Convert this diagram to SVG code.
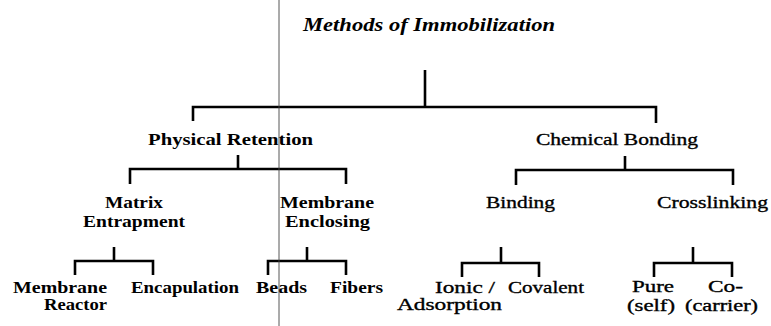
<svg xmlns="http://www.w3.org/2000/svg" width="771" height="326" viewBox="0 0 771 326">
<style>
text{font-family:"Liberation Serif","Times New Roman",serif;fill:#000}
.b{font-size:17px;font-weight:bold}
.r{font-size:17px;font-weight:normal;stroke:#000;stroke-width:0.35}
.s{font-size:16px}
.t{font-size:19px;font-style:italic;font-weight:bold}
.c{fill:none;stroke:#000;stroke-width:2.6;stroke-linejoin:miter}
</style>
<rect width="771" height="326" fill="#fff"/>
<g id="connectors" class="c">
<path d="M425 70V107"/><path d="M193 121V107H656V123"/>
<path d="M238 155V169"/><path d="M130 184V169H346V184"/>
<path d="M625 156V170"/><path d="M516 185V170H733V185"/>
<path d="M114 247V261"/><path d="M75 275V261H153V275"/>
<path d="M307 247V261"/><path d="M268 275V261H346V275"/>
<path d="M501 247V263"/><path d="M462 277V263H539V277"/>
<path d="M693 247V263"/><path d="M654 277V263H732V277"/>
</g>
<g id="title"><text class="t" x="303" y="31" textLength="252" lengthAdjust="spacingAndGlyphs">Methods of Immobilization</text></g>
<g id="physical"><text class="b" x="148" y="145" textLength="165" lengthAdjust="spacingAndGlyphs">Physical Retention</text></g>
<g id="chemical"><text class="r" x="536" y="145" textLength="162" lengthAdjust="spacingAndGlyphs">Chemical Bonding</text></g>
<g id="matrix"><text class="b" x="105" y="208" textLength="58" lengthAdjust="spacingAndGlyphs">Matrix</text><text class="b" x="83" y="227" textLength="102" lengthAdjust="spacingAndGlyphs">Entrapment</text></g>
<g id="enclosing"><text class="b" x="280" y="208" textLength="94" lengthAdjust="spacingAndGlyphs">Membrane</text><text class="b" x="285" y="227" textLength="85" lengthAdjust="spacingAndGlyphs">Enclosing</text></g>
<g id="binding"><text class="r" x="486" y="208" textLength="69" lengthAdjust="spacingAndGlyphs">Binding</text></g>
<g id="crosslinking"><text class="r" x="657" y="208" textLength="111" lengthAdjust="spacingAndGlyphs">Crosslinking</text></g>
<g id="reactor"><text class="b" x="13" y="293" textLength="94" lengthAdjust="spacingAndGlyphs">Membrane</text><text class="b" x="44" y="310" textLength="63" lengthAdjust="spacingAndGlyphs">Reactor</text></g>
<g id="encapulation"><text class="b" x="131" y="293" textLength="108" lengthAdjust="spacingAndGlyphs">Encapulation</text></g>
<g id="beads"><text class="b" x="256" y="293" textLength="51" lengthAdjust="spacingAndGlyphs">Beads</text></g>
<g id="fibers"><text class="b" x="330" y="293" textLength="53" lengthAdjust="spacingAndGlyphs">Fibers</text></g>
<g id="ionic"><text class="r" x="435" y="293" textLength="60" lengthAdjust="spacingAndGlyphs">Ionic /</text><text class="r" x="397" y="310" textLength="105" lengthAdjust="spacingAndGlyphs">Adsorption</text></g>
<g id="covalent"><text class="r" x="508" y="293" textLength="76" lengthAdjust="spacingAndGlyphs">Covalent</text></g>
<g id="pure"><text class="r" x="632" y="292" textLength="42" lengthAdjust="spacingAndGlyphs">Pure</text><text class="r s" x="627" y="311" textLength="48" lengthAdjust="spacingAndGlyphs">(self)</text></g>
<g id="co"><text class="r" x="708" y="292" textLength="35" lengthAdjust="spacingAndGlyphs">Co-</text><text class="r s" x="685" y="311" textLength="73" lengthAdjust="spacingAndGlyphs">(carrier)</text></g>
<line x1="279" y1="0" x2="279" y2="326" stroke="#444" stroke-width="0.9"/>
</svg>
